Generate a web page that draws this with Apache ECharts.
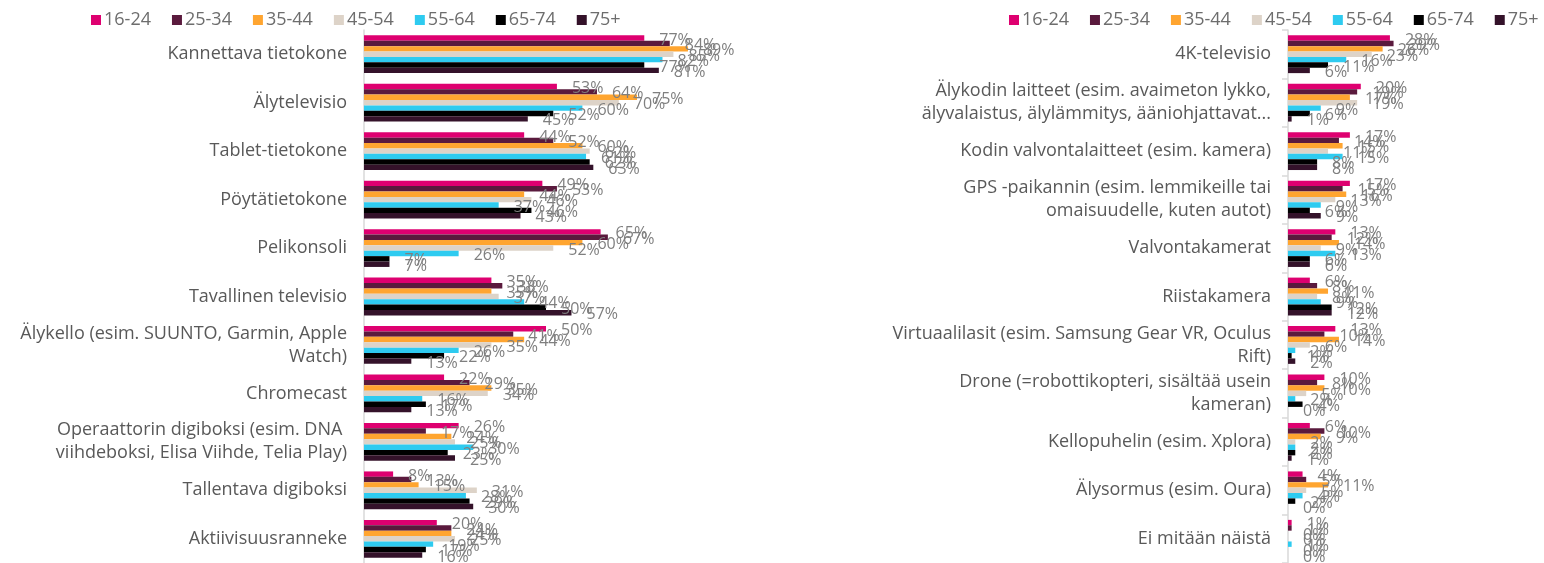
<!DOCTYPE html>
<html lang="fi">
<head>
    <meta charset="UTF-8">
    <title>Laitteet ikäryhmittäin</title>
    <script src="https://cdn.jsdelivr.net/npm/echarts@6.0.0/dist/echarts.min.js"></script>
    <style>
        body { margin: 0; padding: 0; background: #fff; }
        #chart { width: 1544px; height: 563px; }
    </style>
</head>
<body>
    <div id="chart"></div>
    <script>
        // ikäryhmät ja värit
        const ageGroups = ['16-24', '25-34', '35-44', '45-54', '55-64', '65-74', '75+'];
        const colors = ['#DE0070', '#5A1A3D', '#FFA530', '#DDD3C8', '#2ECBF0', '#000000', '#34122A'];

        // vasen paneeli
        const leftCategories = [
            'Kannettava tietokone',
            'Älytelevisio',
            'Tablet-tietokone',
            'Pöytätietokone',
            'Pelikonsoli',
            'Tavallinen televisio',
            'Älykello (esim. SUUNTO, Garmin, Apple\nWatch)',
            'Chromecast',
            'Operaattorin digiboksi (esim. DNA \nviihdeboksi, Elisa Viihde, Telia Play)',
            'Tallentava digiboksi',
            'Aktiivisuusranneke'
        ];
        // arvot per ikäryhmä (sama järjestys kuin kategoriat)
        const left1624 = [77, 53, 44, 49, 65, 35, 50, 22, 26, 8, 20];
        const left2534 = [84, 64, 52, 53, 67, 38, 41, 29, 17, 13, 24];
        const left3544 = [89, 75, 60, 44, 60, 35, 44, 35, 24, 15, 24];
        const left4554 = [85, 70, 62, 46, 52, 37, 35, 34, 25, 31, 25];
        const left5564 = [82, 60, 61, 37, 26, 44, 26, 16, 30, 28, 19];
        const left6574 = [77, 52, 62, 46, 7, 50, 22, 17, 23, 29, 17];
        const left75 = [81, 45, 63, 43, 7, 57, 13, 13, 25, 30, 16];

        // oikea paneeli
        const rightCategories = [
            '4K-televisio',
            'Älykodin laitteet (esim. avaimeton lykko,\nälyvalaistus, älylämmitys, ääniohjattavat...',
            'Kodin valvontalaitteet (esim. kamera)',
            'GPS -paikannin (esim. lemmikeille tai\nomaisuudelle, kuten autot)',
            'Valvontakamerat',
            'Riistakamera',
            'Virtuaalilasit (esim. Samsung Gear VR, Oculus\nRift)',
            'Drone (=robottikopteri, sisältää usein\nkameran)',
            'Kellopuhelin (esim. Xplora)',
            'Älysormus (esim. Oura)',
            'Ei mitään näistä'
        ];
        const right1624 = [28, 20, 17, 17, 13, 6, 13, 10, 6, 4, 1];
        const right2534 = [29, 19, 14, 15, 12, 8, 10, 8, 10, 5, 1];
        const right3544 = [26, 17, 15, 16, 14, 11, 14, 10, 9, 11, 0];
        const right4554 = [23, 19, 11, 13, 9, 8, 6, 5, 2, 5, 0];
        const right5564 = [16, 9, 15, 9, 13, 9, 2, 2, 2, 4, 1];
        const right6574 = [11, 6, 8, 6, 6, 12, 1, 4, 2, 2, 0];
        const right75 = [6, 1, 8, 9, 6, 12, 2, 0, 1, 0, 0];

        const leftData = [left1624, left2534, left3544, left4554, left5564, left6574, left75];
        const rightData = [right1624, right2534, right3544, right4554, right5564, right6574, right75];

        const chart = echarts.init(document.getElementById('chart'));

        const labelStyle = {
            show: true,
            position: 'right',
            distance: 15,
            offset: [0, 2],
            formatter: '{c}%',
            color: '#7f7f7f',
            fontSize: 16,
            fontFamily: 'Open Sans'
        };

        function makeSeries(data, idx) {
            return data.map((vals, i) => ({
                name: ageGroups[i],
                type: 'bar',
                xAxisIndex: idx,
                yAxisIndex: idx,
                data: vals,
                barGap: '0%',
                barCategoryGap: '22%',
                itemStyle: { color: colors[i] },
                label: labelStyle
            }));
        }

        const legendBase = {
            data: ageGroups,
            top: 6,
            itemWidth: 10,
            itemHeight: 10,
            itemGap: 21,
            icon: 'rect',
            textStyle: { color: '#6d6d6d', fontSize: 18, fontFamily: 'Open Sans', padding: [0, 0, 0, -2] }
        };

        const yBase = {
            type: 'category',
            inverse: true,
            axisLine: { show: true, lineStyle: { color: '#d9d9d9', width: 1.5 } },
            axisLabel: {
                color: '#595959',
                fontSize: 18,
                fontFamily: 'Open Sans',
                lineHeight: 23,
                margin: 17,
                align: 'right'
            }
        };

        const xBase = {
            type: 'value',
            min: 0,
            show: false,
            splitLine: { show: false }
        };

        const option = {
            animation: false,
            backgroundColor: '#fff',
            legend: [
                Object.assign({}, legendBase, { left: 86 }),
                Object.assign({}, legendBase, { left: 1004 })
            ],
            grid: [
                { left: 364, top: 30, width: 364, height: 536 },
                { left: 1288, top: 30, width: 254.8, height: 536 }
            ],
            xAxis: [
                Object.assign({}, xBase, { gridIndex: 0, max: 100 }),
                Object.assign({}, xBase, { gridIndex: 1, max: 70 })
            ],
            yAxis: [
                Object.assign({}, yBase, {
                    gridIndex: 0,
                    data: leftCategories,
                    axisTick: { show: false }
                }),
                Object.assign({}, yBase, {
                    gridIndex: 1,
                    data: rightCategories,
                    axisTick: { show: true, length: 6, lineStyle: { color: '#d9d9d9', width: 1.5 } }
                })
            ],
            series: makeSeries(leftData, 0).concat(makeSeries(rightData, 1))
        };

        chart.setOption(option);
        window.addEventListener('resize', function () { chart.resize(); });
    </script>
</body>
</html>
